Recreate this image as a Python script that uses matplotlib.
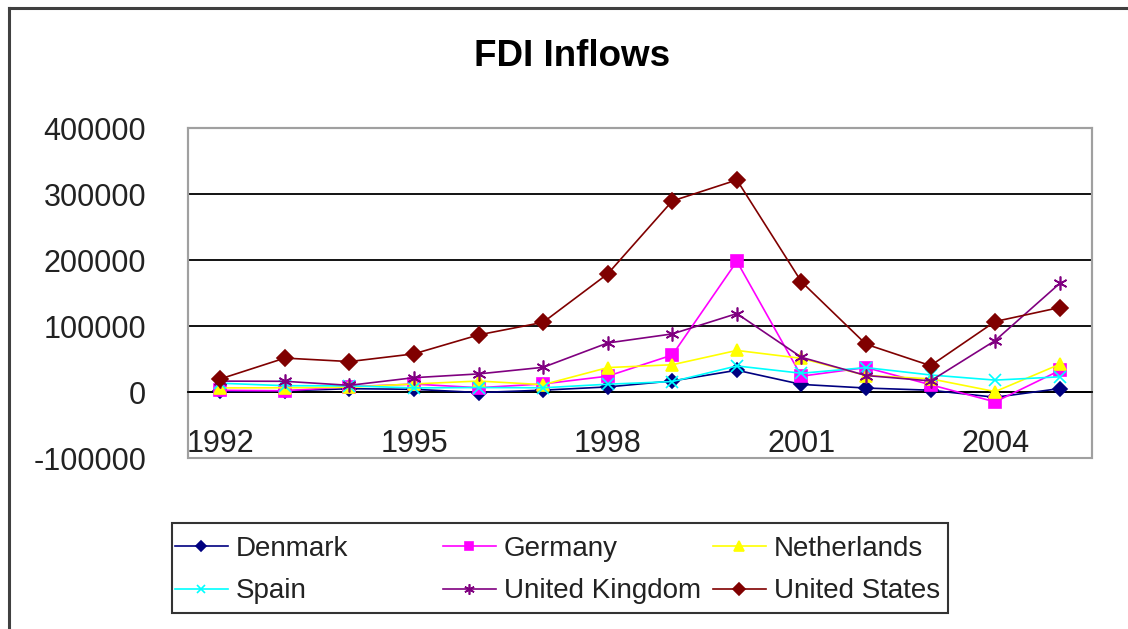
import matplotlib.pyplot as plt
from matplotlib.lines import Line2D
from matplotlib.patches import Rectangle

# Data (USD millions)
years = list(range(1992, 2006))
denmark = [1000, 1700, 5000, 4100, -800, 2800, 7700, 16700, 33000, 11500, 6000, 2700, -8000, 5200]
germany = [2600, 1900, 8000, 12000, 6500, 12200, 24000, 56000, 198000, 24000, 37000, 11000, -15000, 32600]
netherlands = [6200, 6400, 7200, 12200, 16600, 11100, 37000, 41300, 63000, 51000, 25000, 20000, 600, 42000]
spain = [13300, 9600, 9300, 6200, 6800, 6400, 11800, 15800, 39500, 28400, 37000, 25800, 18000, 23000]
uk = [16500, 16200, 10100, 21700, 27400, 37400, 74300, 88000, 118800, 52600, 25000, 16800, 77900, 164500]
us = [19800, 51400, 46100, 57800, 86500, 105600, 179000, 289400, 321300, 167000, 72400, 39900, 106800, 128000]

names = ["Denmark", "Germany", "Netherlands", "Spain", "United Kingdom", "United States"]
series = [denmark, germany, netherlands, spain, uk, us]
colors = ["#000080", "#FF00FF", "#FFFF00", "#00FFFF", "#800080", "#800000"]
markers = ["D", "s", "^", "x", (6, 2, 0), "D"]
msizes = [7, 8, 9, 8, 10, 8]

plt.rcParams['font.family'] = ['Liberation Sans', 'DejaVu Sans']
plt.rcParams['axes.unicode_minus'] = False
txt = "#222222"

fig = plt.figure(figsize=(11.28, 6.29), dpi=100)
ax = fig.add_axes([188 / 1128, 1 - 458 / 629, (1092 - 188) / 1128, (458 - 128) / 629])

x = list(range(len(years)))
handles = []
for name, vals, c, m, ms in zip(names, series, colors, markers, msizes):
    h, = ax.plot(x, vals, color=c, marker=m, markersize=ms, lw=1.2,
                 markeredgecolor=c, markerfacecolor=c, markeredgewidth=1.2,
                 label=name, zorder=3)
    handles.append(h)

ax.set_xlim(-0.5, len(years) - 0.5)
ax.set_ylim(-100000, 400000)
ax.set_yticks(range(-100000, 400001, 100000))
ax.yaxis.grid(True, color="black", lw=1.3)
ax.set_axisbelow(True)

ax.set_xticks(x[::3])
ax.set_xticklabels([str(y) for y in years[::3]])

for s in ["top", "left", "right"]:
    ax.spines[s].set_color("#a0a0a0")
    ax.spines[s].set_linewidth(1.5)
ax.spines["bottom"].set_position(("data", 0))
ax.spines["bottom"].set_color("black")
ax.spines["bottom"].set_linewidth(1.3)
ax.add_patch(Rectangle((0, 0), 1, 1, transform=ax.transAxes, fill=False,
                       edgecolor="#a0a0a0", lw=1.5, clip_on=False, zorder=1))

ax.tick_params(axis="y", length=0, pad=30, labelsize=22, labelcolor=txt)
ax.tick_params(axis="x", length=0, pad=27, labelsize=22, labelcolor=txt)

fig.text(572 / 1128, 1 - 56 / 629, "FDI Inflows", ha="center", va="center",
         fontsize=26.5, fontweight="bold", color="black")

# legend: three fixed-width columns, row-major order like the original
col_x = [172, 440, 710]
for i, cx in enumerate(col_x):
    pair = [handles[i], handles[i + 3]]
    leg = fig.legend(handles=pair, labels=[h.get_label() for h in pair],
                     loc="upper left", bbox_to_anchor=(cx / 1128, 1 - 533 / 629),
                     frameon=False, fontsize=20, handlelength=1.9,
                     handletextpad=0.3, labelspacing=0.6, borderaxespad=0,
                     borderpad=0.1, markerscale=0.75)
    for t in leg.get_texts():
        t.set_color(txt)
fig.add_artist(Rectangle((172 / 1128, 1 - 613 / 629), (948 - 172) / 1128, 90 / 629,
                         transform=fig.transFigure, fill=False,
                         edgecolor="#333333", lw=1.5))

# outer chart frame (left and top edges visible)
fig.add_artist(Line2D([9 / 1128, 9 / 1128], [0, 1 - 8 / 629], transform=fig.transFigure,
                      color="#404040", lw=2.2))
fig.add_artist(Line2D([9 / 1128, 1], [1 - 8 / 629, 1 - 8 / 629], transform=fig.transFigure,
                      color="#404040", lw=2.2))

fig.savefig("out.png", dpi=100)
